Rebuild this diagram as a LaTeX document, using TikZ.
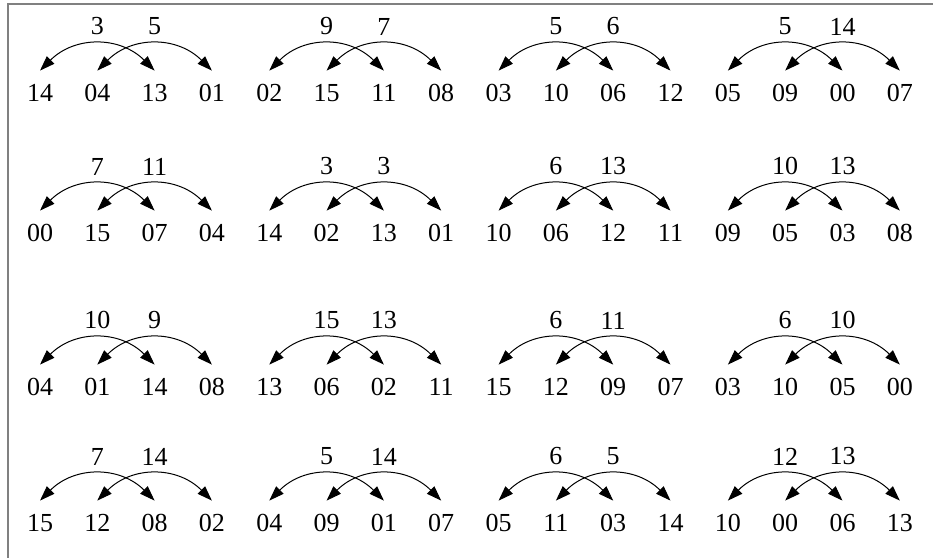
\documentclass[tikz,border=0pt]{standalone}
\usepackage{fontspec}
\setmainfont{Liberation Serif}
\usetikzlibrary{arrows.meta}

\begin{document}
\begin{tikzpicture}[x=0.5pt,y=0.5pt,
    num/.style={minimum height=22pt, inner sep=0pt, font=\fontsize{13}{15}\selectfont},
    etiq/.style={above=3.5pt, inner sep=1pt, font=\fontsize{13}{15}\selectfont},
    arco/.style={{Triangle[length=7.5pt,width=5.2pt]}-{Triangle[length=7.5pt,width=5.2pt]}, line width=0.5pt}]
    % Parámetros: separación entre números y entre grupos
    \def\dx{57.3}
    \def\dg{229.3}

    % Un grupo: #1 nombre, #2 x, #3 y, #4 y #5 etiquetas, #6--#9 números
    \def\grupo#1#2#3#4#5#6#7#8#9{%
        \node[num] (#1a) at (#2,#3) {#6};
        \node[num] (#1b) at (#2+\dx,#3) {#7};
        \node[num] (#1c) at (#2+2*\dx,#3) {#8};
        \node[num] (#1d) at (#2+3*\dx,#3) {#9};
        \draw[arco] (#1a.north) to[out=45,in=135,looseness=1.1] node[etiq] (#1e) {#4} (#1c.north);
        \draw[arco] (#1b.north) to[out=45,in=135,looseness=1.1] node[etiq] (#1f) {#5} (#1d.north);
    }

    % Marco (sólo arriba e izquierda)
    \useasboundingbox (0,0) rectangle (933,558);
    \draw[gray, line width=0.65pt] (933,554) -- (8,554) -- (8,0);

    % Fila 1
    \grupo{pa}{40}{465}{3}{5}{14}{04}{13}{01}
    \grupo{pb}{40+\dg}{465}{9}{7}{02}{15}{11}{08}
    \grupo{pc}{40+2*\dg}{465}{5}{6}{03}{10}{06}{12}
    \grupo{pd}{40+3*\dg}{465}{5}{14}{05}{09}{00}{07}

    % Fila 2
    \grupo{qa}{40}{325}{7}{11}{00}{15}{07}{04}
    \grupo{qb}{40+\dg}{325}{3}{3}{14}{02}{13}{01}
    \grupo{qc}{40+2*\dg}{325}{6}{13}{10}{06}{12}{11}
    \grupo{qd}{40+3*\dg}{325}{10}{13}{09}{05}{03}{08}

    % Fila 3
    \grupo{ra}{40}{171}{10}{9}{04}{01}{14}{08}
    \grupo{rb}{40+\dg}{171}{15}{13}{13}{06}{02}{11}
    \grupo{rc}{40+2*\dg}{171}{6}{11}{15}{12}{09}{07}
    \grupo{rd}{40+3*\dg}{171}{6}{10}{03}{10}{05}{00}

    % Fila 4
    \grupo{sa}{40}{35}{7}{14}{15}{12}{08}{02}
    \grupo{sb}{40+\dg}{35}{5}{14}{04}{09}{01}{07}
    \grupo{sc}{40+2*\dg}{35}{6}{5}{05}{11}{03}{14}
    \grupo{sd}{40+3*\dg}{35}{12}{13}{10}{00}{06}{13}
\end{tikzpicture}
\end{document}
